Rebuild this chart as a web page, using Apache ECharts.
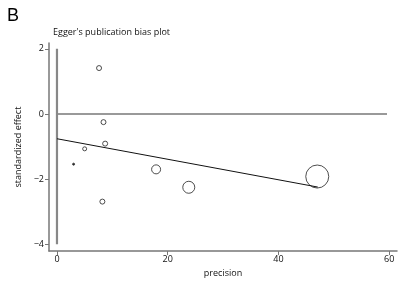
<!DOCTYPE html>
<html>
<head>
<meta charset="utf-8">
<script src="https://cdn.jsdelivr.net/npm/echarts@6/dist/echarts.min.js"></script>
<style>
  html, body { margin: 0; padding: 0; background: #fff; }
  #chart { width: 400px; height: 283px; }
</style>
</head>
<body>
<div id="chart"></div>
<script>
// studies: precision (1/SE) vs standardized effect
const precision = [7.6, 8.4, 8.7, 5.0, 3.0, 8.2, 17.9, 23.8, 47.0];
const stdEffect = [1.41, -0.25, -0.91, -1.07, -1.54, -2.69, -1.70, -2.25, -1.92];
const studyWeight = [5, 5, 5, 4, 2, 5, 9, 12, 23];

// Egger regression line
const fitX = [0, 47.1];
const fitIntercept = -0.76;
const fitSlope = -0.0315;

const xTicks = [0, 20, 40, 60];
const yTicks = [-4, -2, 0, 2];

const font = 'Open Sans';
const chart = echarts.init(document.getElementById('chart'));

const points = precision.map((p, i) => ({
  value: [p, stdEffect[i]],
  symbolSize: studyWeight[i],
  itemStyle: studyWeight[i] <= 2 ? { color: '#000' } : undefined
}));

const fitLine = fitX.map(x => [x, fitIntercept + fitSlope * x]);

const option = {
  animation: false,
  textStyle: { fontFamily: font },
  title: [
    { text: 'B', left: 2, top: 2, textStyle: { fontSize: 18, fontWeight: 'normal', color: '#000', fontFamily: 'Liberation Sans' } },
    { text: "Egger's publication bias plot", left: 48, top: 23, textStyle: { fontSize: 9, fontWeight: 'normal', color: '#111', fontFamily: font } }
  ],
  grid: { left: 49, right: 3, top: 43, bottom: 30 },
  xAxis: {
    type: 'value', min: -1.44, max: 61.4,
    name: 'precision', nameLocation: 'middle', nameGap: 17,
    nameTextStyle: { fontSize: 9, color: '#111' },
    splitLine: { show: false },
    axisLine: { show: true, onZero: false, lineStyle: { color: '#777', width: 1.5 } },
    axisTick: { show: true, length: 4, customValues: xTicks, lineStyle: { color: '#777' } },
    axisLabel: { customValues: xTicks, fontSize: 9, color: '#111', margin: 4 }
  },
  yAxis: {
    type: 'value', min: -4.21, max: 2.18,
    name: 'standardized effect', nameLocation: 'middle', nameGap: 24,
    nameTextStyle: { fontSize: 9, color: '#111' },
    splitLine: { show: false },
    axisLine: { show: true, onZero: false, lineStyle: { color: '#777', width: 1.5 } },
    axisTick: { show: true, length: 4, customValues: yTicks, lineStyle: { color: '#777' } },
    axisLabel: { customValues: yTicks, fontSize: 9, color: '#111', margin: 5,
      formatter: v => String(v).replace('-', '\u2212') }
  },
  series: [
    {
      type: 'line', data: [[0, 0], [59.6, 0]], symbol: 'none',
      lineStyle: { color: '#777', width: 1.5 }, silent: true
    },
    {
      type: 'line', data: [[0, 2], [0, -4]], symbol: 'none',
      lineStyle: { color: '#888', width: 2.2 }, silent: true
    },
    {
      type: 'line', data: fitLine, symbol: 'none',
      lineStyle: { color: '#111', width: 1 }, silent: true
    },
    {
      type: 'scatter', data: points, symbol: 'circle',
      itemStyle: { color: 'rgba(255,255,255,0)', borderColor: '#222', borderWidth: 1 }
    }
  ]
};

chart.setOption(option);
</script>
</body>
</html>
